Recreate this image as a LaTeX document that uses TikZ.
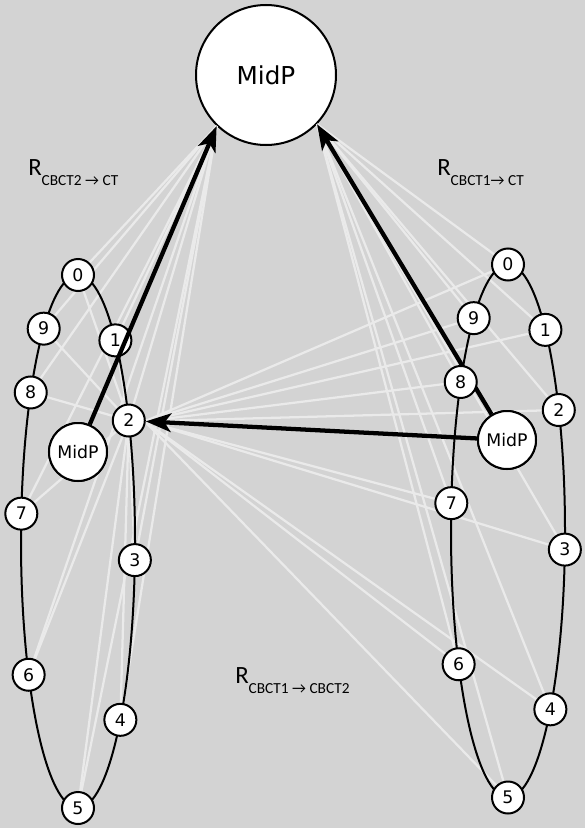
\documentclass[tikz,border=0pt]{standalone}
\usepackage{fontspec}
\setmainfont{DejaVu Sans}
\newfontfamily\labfont{Carlito}
\usetikzlibrary{arrows.meta,calc}
\definecolor{bgc}{RGB}{211,211,211}
\definecolor{thin}{RGB}{234,234,234}
\begin{document}
\begin{tikzpicture}[x=0.75pt,y=-0.75pt,
  pt/.style={circle,draw=black,fill=white,line width=1.5pt,minimum size=24pt,inner sep=0pt,font=\fontsize{13}{13}\selectfont},
  smid/.style={circle,draw=black,fill=white,line width=1.5pt,minimum size=43.5pt,inner sep=0pt,font=\fontsize{13}{13}\selectfont},
  bigmid/.style={circle,draw=black,fill=white,line width=1.5pt,minimum size=105pt,inner sep=0pt,font=\fontsize{18.5}{18.5}\selectfont},
  ring/.style={draw=black,line width=1.5pt},
  faint/.style={draw=thin,line width=1.7pt},
  thick arrow/.style={draw=black,line width=3.2pt,-{Stealth[length=19pt,width=14pt,inset=5pt]}},
  lab/.style={anchor=base west,inner sep=0pt}
]
\useasboundingbox[fill=bgc] (0,0) rectangle (585,828);
% big MidP
\node[bigmid] (M) at (266,75) {MidP};
\coordinate (tl) at (M.226);
\coordinate (tr) at (M.316);
% ring positions
\def\lcx{78}\def\lcy{541.5}\def\rx{57}\def\ry{266.5}
\foreach \i/\a in {0/90,1/49,2/27,3/-4,4/-42,5/-90,6/210,7/174,8/146,9/127}{
  \coordinate (Lc\i) at ({\lcx+\rx*cos(\a)},{\lcy-\ry*sin(\a)});
  \coordinate (Rc\i) at ({508+\rx*cos(\a)},{531-\ry*sin(\a)});
}
\coordinate (LMc) at (78,452);
\coordinate (RMc) at (507,440);
\coordinate (L2tip) at ($(Lc2)!12pt!(RMc)$);
% faint lines
\foreach \i in {0,...,9}{
  \draw[faint] (tl) -- (Lc\i);
  \draw[faint] (tr) -- (Rc\i);
  \draw[faint] (L2tip) -- (Rc\i);
  \draw[faint] (Lc2) -- (Lc\i);
}
% ellipses
\draw[ring] (\lcx,\lcy) ellipse [x radius=\rx, y radius=\ry];
\draw[ring] (508,531) ellipse [x radius=\rx, y radius=\ry];
% small MidP nodes and left ring nodes
\node[smid] (LM) at (LMc) {MidP};
\node[smid] (RM) at (RMc) {MidP};
\foreach \i in {0,...,9}{
  \node[pt] (L\i) at (Lc\i) {\i};
}
% thick arrows
\draw[thick arrow] (LM) -- (tl);
\draw[thick arrow] (RM) -- (tr);
\draw[thick arrow] (RM) -- (L2);
\foreach \i in {0,...,9}{
  \node[pt] (R\i) at (Rc\i) {\i};
}
\node[smid] at (LMc) {MidP};
\node[smid] at (RMc) {MidP};
% labels
\node[lab] (la) at (28,175) {\labfont\fontsize{18.6}{19}\selectfont R\raisebox{-7.5pt}{\fontsize{11.5}{12}\selectfont CBCT2 → CT}};
\node[lab] (lb) at (437,175) {\labfont\fontsize{18.6}{19}\selectfont R\raisebox{-7.5pt}{\fontsize{11.5}{12}\selectfont CBCT1→ CT}};
\node[lab] (lc) at (235,683) {\labfont\fontsize{18.6}{19}\selectfont R\raisebox{-7.5pt}{\fontsize{11.5}{12}\selectfont CBCT1 → CBCT2}};
\end{tikzpicture}
\end{document}
